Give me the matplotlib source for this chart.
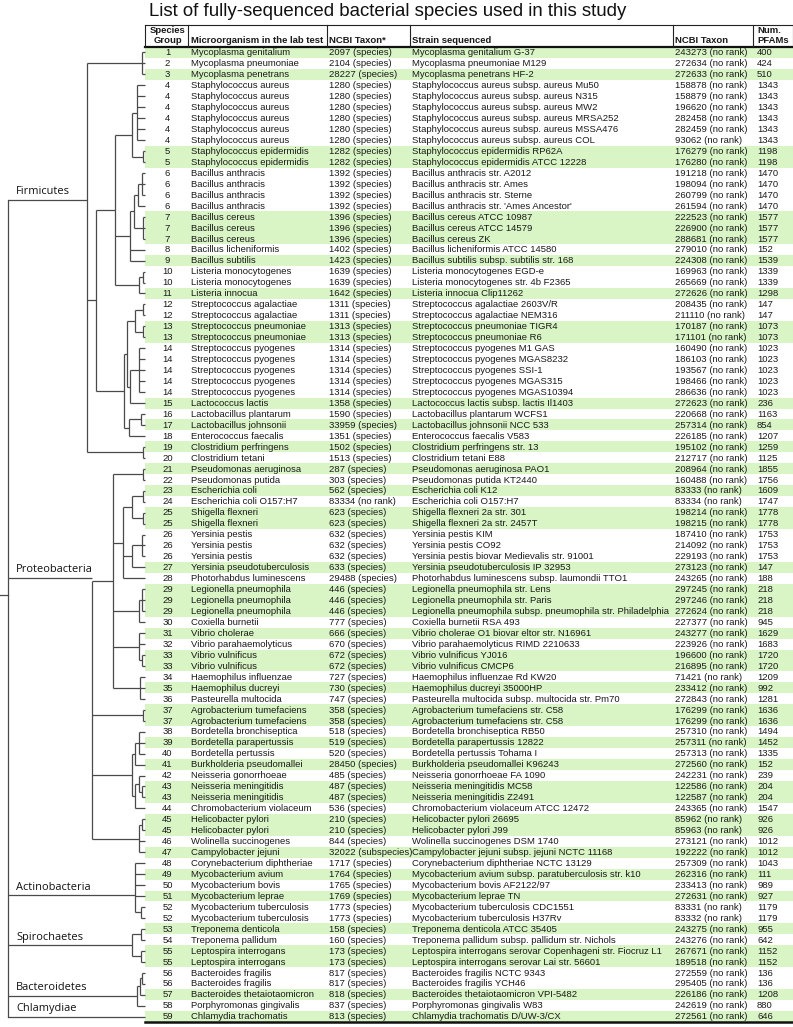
import matplotlib
matplotlib.use("Agg")
import matplotlib.pyplot as plt
from matplotlib.patches import Rectangle

# ---------------- data ----------------
title = "List of fully-sequenced bacterial species used in this study"
headers = ["Species\nGroup", "Microorganism in the lab test", "NCBI Taxon*",
           "Strain sequenced", "NCBI Taxon", "Num.\nPFAMs"]

groups = [1, 2, 3, 4, 4, 4, 4, 4, 4, 5, 5, 6, 6, 6, 6, 7, 7, 7, 8, 9, 10, 10, 11,
          12, 12, 13, 13, 14, 14, 14, 14, 14, 15, 16, 17, 18, 19, 20, 21, 22, 23, 24,
          25, 25, 26, 26, 26, 27, 28, 29, 29, 29, 30, 31, 32, 33, 33, 34, 35, 36, 37, 37,
          38, 39, 40, 41, 42, 43, 43, 44, 45, 45, 46, 47, 48, 49, 50, 51, 52, 52, 53, 54,
          55, 55, 56, 56, 57, 58, 59]

microorganism = [
    "Mycoplasma genitalium", "Mycoplasma pneumoniae", "Mycoplasma penetrans",
    "Staphylococcus aureus", "Staphylococcus aureus", "Staphylococcus aureus",
    "Staphylococcus aureus", "Staphylococcus aureus", "Staphylococcus aureus",
    "Staphylococcus epidermidis", "Staphylococcus epidermidis",
    "Bacillus anthracis", "Bacillus anthracis", "Bacillus anthracis", "Bacillus anthracis",
    "Bacillus cereus", "Bacillus cereus", "Bacillus cereus",
    "Bacillus licheniformis", "Bacillus subtilis",
    "Listeria monocytogenes", "Listeria monocytogenes", "Listeria innocua",
    "Streptococcus agalactiae", "Streptococcus agalactiae",
    "Streptococcus pneumoniae", "Streptococcus pneumoniae",
    "Streptococcus pyogenes", "Streptococcus pyogenes", "Streptococcus pyogenes",
    "Streptococcus pyogenes", "Streptococcus pyogenes",
    "Lactococcus lactis", "Lactobacillus plantarum", "Lactobacillus johnsonii",
    "Enterococcus faecalis", "Clostridium perfringens", "Clostridium tetani",
    "Pseudomonas aeruginosa", "Pseudomonas putida", "Escherichia coli",
    "Escherichia coli O157:H7", "Shigella flexneri", "Shigella flexneri",
    "Yersinia pestis", "Yersinia pestis", "Yersinia pestis",
    "Yersinia pseudotuberculosis", "Photorhabdus luminescens",
    "Legionella pneumophila", "Legionella pneumophila", "Legionella pneumophila",
    "Coxiella burnetii", "Vibrio cholerae", "Vibrio parahaemolyticus",
    "Vibrio vulnificus", "Vibrio vulnificus", "Haemophilus influenzae",
    "Haemophilus ducreyi", "Pasteurella multocida",
    "Agrobacterium tumefaciens", "Agrobacterium tumefaciens",
    "Bordetella bronchiseptica", "Bordetella parapertussis", "Bordetella pertussis",
    "Burkholderia pseudomallei", "Neisseria gonorrhoeae", "Neisseria meningitidis",
    "Neisseria meningitidis", "Chromobacterium violaceum", "Helicobacter pylori",
    "Helicobacter pylori", "Wolinella succinogenes", "Campylobacter jejuni",
    "Corynebacterium diphtheriae", "Mycobacterium avium", "Mycobacterium bovis",
    "Mycobacterium leprae", "Mycobacterium tuberculosis", "Mycobacterium tuberculosis",
    "Treponema denticola", "Treponema pallidum", "Leptospira interrogans",
    "Leptospira interrogans", "Bacteroides fragilis", "Bacteroides fragilis",
    "Bacteroides thetaiotaomicron", "Porphyromonas gingivalis", "Chlamydia trachomatis"]

taxon_star = [
    "2097 (species)", "2104 (species)", "28227 (species)",
    "1280 (species)", "1280 (species)", "1280 (species)", "1280 (species)",
    "1280 (species)", "1280 (species)", "1282 (species)", "1282 (species)",
    "1392 (species)", "1392 (species)", "1392 (species)", "1392 (species)",
    "1396 (species)", "1396 (species)", "1396 (species)", "1402 (species)",
    "1423 (species)", "1639 (species)", "1639 (species)", "1642 (species)",
    "1311 (species)", "1311 (species)", "1313 (species)", "1313 (species)",
    "1314 (species)", "1314 (species)", "1314 (species)", "1314 (species)",
    "1314 (species)", "1358 (species)", "1590 (species)", "33959 (species)",
    "1351 (species)", "1502 (species)", "1513 (species)", "287 (species)",
    "303 (species)", "562 (species)", "83334 (no rank)", "623 (species)",
    "623 (species)", "632 (species)", "632 (species)", "632 (species)",
    "633 (species)", "29488 (species)", "446 (species)", "446 (species)",
    "446 (species)", "777 (species)", "666 (species)", "670 (species)",
    "672 (species)", "672 (species)", "727 (species)", "730 (species)",
    "747 (species)", "358 (species)", "358 (species)", "518 (species)",
    "519 (species)", "520 (species)", "28450 (species)", "485 (species)",
    "487 (species)", "487 (species)", "536 (species)", "210 (species)",
    "210 (species)", "844 (species)", "32022 (subspecies)", "1717 (species)",
    "1764 (species)", "1765 (species)", "1769 (species)", "1773 (species)",
    "1773 (species)", "158 (species)", "160 (species)", "173 (species)",
    "173 (species)", "817 (species)", "817 (species)", "818 (species)",
    "837 (species)", "813 (species)"]

strain = [
    "Mycoplasma genitalium G-37", "Mycoplasma pneumoniae M129", "Mycoplasma penetrans HF-2",
    "Staphylococcus aureus subsp. aureus Mu50", "Staphylococcus aureus subsp. aureus N315",
    "Staphylococcus aureus subsp. aureus MW2", "Staphylococcus aureus subsp. aureus MRSA252",
    "Staphylococcus aureus subsp. aureus MSSA476", "Staphylococcus aureus subsp. aureus COL",
    "Staphylococcus epidermidis RP62A", "Staphylococcus epidermidis ATCC 12228",
    "Bacillus anthracis str. A2012", "Bacillus anthracis str. Ames",
    "Bacillus anthracis str. Sterne", "Bacillus anthracis str. 'Ames Ancestor'",
    "Bacillus cereus ATCC 10987", "Bacillus cereus ATCC 14579", "Bacillus cereus ZK",
    "Bacillus licheniformis ATCC 14580", "Bacillus subtilis subsp. subtilis str. 168",
    "Listeria monocytogenes EGD-e", "Listeria monocytogenes str. 4b F2365",
    "Listeria innocua Clip11262", "Streptococcus agalactiae 2603V/R",
    "Streptococcus agalactiae NEM316", "Streptococcus pneumoniae TIGR4",
    "Streptococcus pneumoniae R6", "Streptococcus pyogenes M1 GAS",
    "Streptococcus pyogenes MGAS8232", "Streptococcus pyogenes SSI-1",
    "Streptococcus pyogenes MGAS315", "Streptococcus pyogenes MGAS10394",
    "Lactococcus lactis subsp. lactis Il1403", "Lactobacillus plantarum WCFS1",
    "Lactobacillus johnsonii NCC 533", "Enterococcus faecalis V583",
    "Clostridium perfringens str. 13", "Clostridium tetani E88",
    "Pseudomonas aeruginosa PAO1", "Pseudomonas putida KT2440",
    "Escherichia coli K12", "Escherichia coli O157:H7",
    "Shigella flexneri 2a str. 301", "Shigella flexneri 2a str. 2457T",
    "Yersinia pestis KIM", "Yersinia pestis CO92",
    "Yersinia pestis biovar Medievalis str. 91001",
    "Yersinia pseudotuberculosis IP 32953",
    "Photorhabdus luminescens subsp. laumondii TTO1",
    "Legionella pneumophila str. Lens", "Legionella pneumophila str. Paris",
    "Legionella pneumophila subsp. pneumophila str. Philadelphia",
    "Coxiella burnetii RSA 493", "Vibrio cholerae O1 biovar eltor str. N16961",
    "Vibrio parahaemolyticus RIMD 2210633", "Vibrio vulnificus YJ016",
    "Vibrio vulnificus CMCP6", "Haemophilus influenzae Rd KW20",
    "Haemophilus ducreyi 35000HP", "Pasteurella multocida subsp. multocida str. Pm70",
    "Agrobacterium tumefaciens str. C58", "Agrobacterium tumefaciens str. C58",
    "Bordetella bronchiseptica RB50", "Bordetella parapertussis 12822",
    "Bordetella pertussis Tohama I", "Burkholderia pseudomallei K96243",
    "Neisseria gonorrhoeae FA 1090", "Neisseria meningitidis MC58",
    "Neisseria meningitidis Z2491", "Chromobacterium violaceum ATCC 12472",
    "Helicobacter pylori 26695", "Helicobacter pylori J99",
    "Wolinella succinogenes DSM 1740", "Campylobacter jejuni subsp. jejuni NCTC 11168",
    "Corynebacterium diphtheriae NCTC 13129",
    "Mycobacterium avium subsp. paratuberculosis str. k10",
    "Mycobacterium bovis AF2122/97", "Mycobacterium leprae TN",
    "Mycobacterium tuberculosis CDC1551", "Mycobacterium tuberculosis H37Rv",
    "Treponema denticola ATCC 35405", "Treponema pallidum subsp. pallidum str. Nichols",
    "Leptospira interrogans serovar Copenhageni str. Fiocruz L1",
    "Leptospira interrogans serovar Lai str. 56601", "Bacteroides fragilis NCTC 9343",
    "Bacteroides fragilis YCH46", "Bacteroides thetaiotaomicron VPI-5482",
    "Porphyromonas gingivalis W83", "Chlamydia trachomatis D/UW-3/CX"]

taxon = [243273, 272634, 272633, 158878, 158879, 196620, 282458, 282459, 93062, 176279,
         176280, 191218, 198094, 260799, 261594, 222523, 226900, 288681, 279010, 224308,
         169963, 265669, 272626, 208435, 211110, 170187, 171101, 160490, 186103, 193567,
         198466, 286636, 272623, 220668, 257314, 226185, 195102, 212717, 208964, 160488,
         83333, 83334, 198214, 198215, 187410, 214092, 229193, 273123, 243265, 297245,
         297246, 272624, 227377, 243277, 223926, 196600, 216895, 71421, 233412, 272843,
         176299, 176299, 257310, 257311, 257313, 272560, 242231, 122586, 122587, 243365,
         85962, 85963, 273121, 192222, 257309, 262316, 233413, 272631, 83331, 83332,
         243275, 243276, 267671, 189518, 272559, 295405, 226186, 242619, 272561]

pfams = [400, 424, 510, 1343, 1343, 1343, 1343, 1343, 1343, 1198, 1198, 1470, 1470, 1470,
         1470, 1577, 1577, 1577, 152, 1539, 1339, 1339, 1298, 147, 147, 1073, 1073, 1023,
         1023, 1023, 1023, 1023, 236, 1163, 854, 1207, 1259, 1125, 1855, 1756, 1609, 1747,
         1778, 1778, 1753, 1753, 1753, 147, 188, 218, 218, 218, 945, 1629, 1683, 1720, 1720,
         1209, 992, 1281, 1636, 1636, 1494, 1452, 1335, 152, 239, 204, 204, 1547, 926, 926,
         1012, 1012, 1043, 111, 989, 927, 1179, 1179, 955, 642, 1152, 1152, 136, 136, 1208,
         880, 646]

phyla = ["Firmicutes", "Proteobacteria", "Actinobacteria", "Spirochaetes",
         "Bacteroidetes", "Chlamydiae"]

# tree topology: (node x in px, [children]); leaves are row indices
firmicutes = (87, [(142, [0, 1, 2]),
                   (96, [(115, [(132, [(137, [3, 4, 5, 6, 7, 8]), (143, [9, 10])]),
                                (130, [(134, [(138, [(142, [11, 12, 13]), 14]),
                                              (143, [15, 16, 17])]), 18, 19]),
                                (139, [(143, [20, 21]), 22])]),
                         (124, [(127, [(134.5, [(143, [23, 24]), (143, [25, 26])]),
                                       (130, [(139, [27, 28, 29, 30, 31]), 32])]),
                                (129, [(141, [33, 34]), 35])])]),
                   (143, [36, 37])])
proteobacteria = (92, [(113, [(143, [38, 39]),
                              (123, [(132, [(143, [40, 41]), (143, [42, 43])]),
                                     (132, [(142, [44, 45, 46]), 47]), 48]),
                              (139, [(142, [49, 50, 51]), 52]),
                              (139, [53, 54, (142, [55, 56])]),
                              (140, [57, 58, 59])]),
                       (143, [60, 61]),
                       (132, [(134.5, [(139, [62, 63, 64]), 65]),
                              (134.5, [(139, [66, (142, [67, 68])]), 69])]),
                       (139, [(142, [70, 71]), 72, 73])])
actinobacteria = (134.5, [74, 75, 76, 77, (141, [78, 79])])
spirochaetes = (132, [(141, [80, 81]), (141, [82, 83])])
bacteroidetes = (137, [(139.5, [(142, [84, 85]), 86]), 87])
chlamydiae = 88
phylum_trees = [firmicutes, proteobacteria, actinobacteria, spirochaetes,
                bacteroidetes, chlamydiae]
phylum_anchor_y = [200, 578, 895, None, None, None]

# ---------------- layout ----------------
W, H = 793, 1027
fig = plt.figure(figsize=(W / 100, H / 100), dpi=100)
ax = fig.add_axes([0, 0, 1, 1])
ax.set_xlim(0, W)
ax.set_ylim(H, 0)
ax.axis("off")

FONT = "Liberation Sans"
TXT = "#1a1a1a"
GREEN = "#d9f5c6"
LINE = "#4a4a4a"

top_hdr, hdr_bot, tab_bot = 25.0, 47.0, 1022.0
n = len(groups)
rh = (tab_bot - hdr_bot) / n
xl, xr = 145, 793
cols = [145, 188, 327, 410, 673, 753, 792.5]
tx = [167.5, 191, 329, 412, 675, 757]

ax.text(149, 11.5, title, ha="left", va="center", fontsize=13.4,
        family=FONT, color="#111")

def row_y(i):
    return hdr_bot + (i + 0.5) * rh

# green rows
for i, g in enumerate(groups):
    if g % 2 == 1:
        ax.add_patch(Rectangle((xl, hdr_bot + i * rh), xr - xl, rh,
                               facecolor=GREEN, edgecolor="none", zorder=0))

fs = 6.8
for i in range(n):
    y = row_y(i) + 0.3
    kw = dict(va="center", fontsize=fs, family=FONT, color=TXT)
    ax.text(tx[0], y, str(groups[i]), ha="center", **kw)
    ax.text(tx[1], y, microorganism[i], ha="left", **kw)
    ax.text(tx[2], y, taxon_star[i], ha="left", **kw)
    ax.text(tx[3], y, strain[i], ha="left", **kw)
    ax.text(tx[4], y, f"{taxon[i]} (no rank)", ha="left", **kw)
    ax.text(tx[5], y, str(pfams[i]), ha="left", **kw)

# header
ax.plot([xl, xr], [top_hdr, top_hdr], color="#222", lw=0.8)
ax.plot([xl, xr], [hdr_bot, hdr_bot], color="#111", lw=1.6)
ax.plot([xl, xr], [tab_bot, tab_bot], color="#111", lw=1.8)
for c in cols:
    ax.plot([c, c], [top_hdr, hdr_bot], color="#222", lw=0.8)
for k, h in enumerate(headers):
    ax.text(tx[k], 45.0, h, ha="center" if k == 0 else "left", va="bottom",
            fontsize=fs, family=FONT, weight="bold", color=TXT, linespacing=1.2)

# dendrogram
def draw(node):
    if isinstance(node, int):
        return xl, row_y(node)
    x, children = node
    ys = []
    for ch in children:
        cx, cy = draw(ch)
        ax.plot([x, cx], [cy, cy], color=LINE, lw=0.9, solid_capstyle="butt")
        ys.append(cy)
    ax.plot([x, x], [min(ys), max(ys)], color=LINE, lw=0.9, solid_capstyle="butt")
    return x, (min(ys) + max(ys)) / 2

root_x = 8
py = []
for name, tree, anc in zip(phyla, phylum_trees, phylum_anchor_y):
    nx, ny = draw(tree)
    if anc is not None:
        ny = anc
    ax.plot([root_x, nx], [ny, ny], color=LINE, lw=0.9, solid_capstyle="butt")
    ax.text(16, ny - 2.5, name, ha="left", va="bottom", fontsize=7.9,
            family="Open Sans", color="#111")
    py.append(ny)
ax.plot([root_x, root_x], [min(py), max(py)], color=LINE, lw=0.9)
ax.plot([0, root_x], [595, 595], color=LINE, lw=0.9)

fig.savefig("out.png", dpi=100)
